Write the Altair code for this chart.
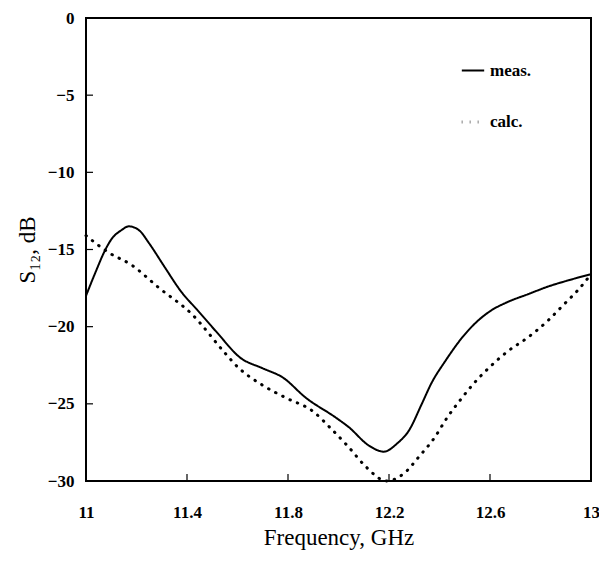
import altair as alt
import pandas as pd

meas_f = [11.00, 11.037, 11.077, 11.10, 11.14, 11.17, 11.21, 11.25, 11.31, 11.38, 11.44, 11.52,
          11.61, 11.70, 11.78, 11.87, 11.99, 12.04, 12.12, 12.18, 12.23, 12.28, 12.33, 12.37,
          12.42, 12.49, 12.54, 12.60, 12.67, 12.75, 12.83, 12.91, 13.00]
meas_v = [-18.0, -16.5, -15.0, -14.35, -13.75, -13.5, -13.75, -14.6, -16.1, -17.8, -18.9, -20.4,
          -22.0, -22.7, -23.3, -24.6, -25.9, -26.5, -27.7, -28.1, -27.6, -26.7, -25.0, -23.6,
          -22.3, -20.7, -19.8, -19.0, -18.4, -17.9, -17.4, -17.0, -16.6]

calc_f = [11.00, 11.09, 11.18, 11.29, 11.42, 11.55, 11.60, 11.70, 11.79, 11.90, 11.97, 12.04,
          12.11, 12.19, 12.26, 12.32, 12.38, 12.43, 12.48, 12.54, 12.60, 12.67, 12.75, 12.83,
          12.89, 12.95, 13.00]
calc_v = [-14.1, -15.2, -16.0, -17.5, -19.2, -21.7, -22.6, -23.8, -24.6, -25.5, -26.6, -27.8,
          -29.1, -30.0, -29.5, -28.4, -27.2, -25.9, -24.8, -23.6, -22.6, -21.6, -20.7, -19.6,
          -18.6, -17.6, -16.6]

x_ticks = [11, 11.4, 11.8, 12.2, 12.6, 13]
y_ticks = [0, -5, -10, -15, -20, -25, -30]
series = ["meas.", "calc."]

df = pd.concat([
    pd.DataFrame({"f": meas_f, "v": meas_v, "s": series[0], "o": range(len(meas_f))}),
    pd.DataFrame({"f": calc_f, "v": calc_v, "s": series[1], "o": range(len(calc_f))}),
])

W, H = 505, 463
FONT = "Liberation Serif"

x_scale = alt.Scale(domain=[11, 13], nice=False, zero=False)
y_scale = alt.Scale(domain=[-30, 0], nice=False)

lines = alt.Chart(df).mark_line(interpolate="monotone", color="black", strokeCap="round").encode(
    x=alt.X("f:Q", scale=x_scale,
            axis=alt.Axis(values=x_ticks, title="Frequency, GHz",
                          labelExpr="datum.value == 11 || datum.value == 13 ? format(datum.value, 'd') : format(datum.value, '.1f')",
                          labelPadding=23, ticks=False, domain=False, grid=False,
                          titlePadding=6, labelFlush=False)),
    y=alt.Y("v:Q", scale=y_scale,
            axis=alt.Axis(values=y_ticks, title="S₁₂, dB", labelPadding=12, ticks=False,
                          domain=False, grid=False, titlePadding=8)),
    strokeDash=alt.StrokeDash("s:N", scale=alt.Scale(domain=series, range=[[1, 0], [0.5, 7.5]]),
                              legend=alt.Legend(title=None, orient="none", legendX=374, legendY=40,
                                                symbolType="stroke", symbolSize=500, symbolStrokeWidth=2.5,
                                                symbolStrokeColor="black", rowPadding=30,
                                                labelFont=FONT, labelFontSize=17, labelFontWeight="bold",
                                                labelColor="black", labelOffset=4)),
    strokeWidth=alt.StrokeWidth("s:N", scale=alt.Scale(domain=series, range=[2, 3]), legend=None),
    detail="s:N",
    order="o:Q",
)

xt = alt.Chart(pd.DataFrame({"t": x_ticks[1:-1]})).mark_rule(color="black", strokeWidth=1.2).encode(
    x=alt.X("t:Q", scale=x_scale), y=alt.value(H), y2=alt.value(H - 7))
yt = alt.Chart(pd.DataFrame({"t": y_ticks[1:-1]})).mark_rule(color="black", strokeWidth=1.2).encode(
    y=alt.Y("t:Q", scale=y_scale), x=alt.value(0), x2=alt.value(7))

chart = alt.layer(lines, xt, yt).properties(
    width=W, height=H,
    autosize=alt.AutoSizeParams(type="none"),
    padding={"left": 78, "top": 10, "right": 8, "bottom": 74},
).configure_view(stroke="black", strokeWidth=2).configure_axis(
    labelFont=FONT, labelFontSize=17, labelFontWeight="bold", labelColor="black",
    titleFont=FONT, titleFontSize=23, titleFontWeight="normal", titleColor="black",
)

chart.save("out.html", embed_options={"renderer": "svg", "actions": False})
